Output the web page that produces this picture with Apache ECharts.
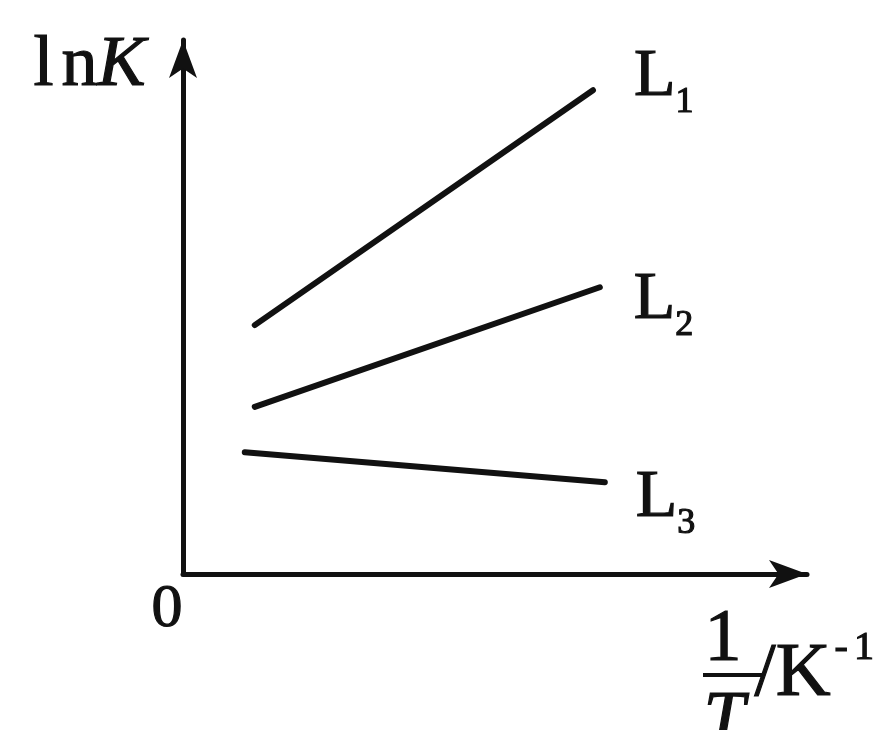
<!DOCTYPE html>
<html>
<head>
<meta charset="utf-8">
<script src="https://cdn.jsdelivr.net/npm/echarts@6/dist/echarts.min.js"></script>
<style>
  html, body { margin: 0; padding: 0; background: #fff; }
  #chart { width: 876px; height: 730px; }
</style>
</head>
<body>
<div id="chart"></div>
<script>
// Straight lines of ln K against 1/T, each given by its two end points
const lineNames = ['L1', 'L2', 'L3'];
const lineSubscripts = ['1', '2', '3'];
const invT = [
  [1.15, 6.57],
  [1.15, 6.68],
  [0.99, 6.76]
];
const lnK = [
  [4.66, 9.06],
  [3.13, 5.37],
  [2.28, 1.72]
];
const axisMax = { x: 10, y: 10 };

const serif = "'Liberation Serif', 'Times New Roman', 'DejaVu Serif', serif";
const ink = '#111';
// slightly heavier strokes for the series labels
const heavy = { textBorderColor: ink, textBorderWidth: 1.2 };
// and the same for the free-standing graphic texts
const heavyG = { stroke: ink, lineWidth: 1.2 };

// per-line label nudges for the end labels
const labelOffsets = [[33, -13], [26, 13], [23, 16]];

const series = lineNames.map((name, i) => ({
  name: name,
  type: 'line',
  data: invT[i].map((x, k) => [x, lnK[i][k]]),
  symbol: 'none',
  silent: true,
  lineStyle: { color: ink, width: 6, cap: 'round' },
  endLabel: {
    show: true,
    offset: labelOffsets[i],
    formatter: () => '{a|L}{b|' + lineSubscripts[i] + '}',
    rich: {
      a: Object.assign({ fontFamily: serif, fontSize: 68, color: ink }, heavy),
      b: Object.assign({ fontFamily: serif, fontSize: 36, color: ink, padding: [50, 0, 0, 0] }, heavy)
    }
  }
}));

const axisLine = {
  show: true,
  lineStyle: { color: ink, width: 5 },
  symbol: ['none', 'arrow'],
  symbolSize: [21, 38]
};

const chart = echarts.init(document.getElementById('chart'), null, { renderer: 'canvas' });
chart.setOption({
  animation: false,
  backgroundColor: '#fff',
  grid: { left: 183, right: 69, top: 40, bottom: 156, containLabel: false },
  xAxis: {
    type: 'value', min: 0, max: axisMax.x,
    axisLine: axisLine,
    axisTick: { show: false }, axisLabel: { show: false }, splitLine: { show: false }
  },
  yAxis: {
    type: 'value', min: 0, max: axisMax.y,
    axisLine: axisLine,
    axisTick: { show: false }, axisLabel: { show: false }, splitLine: { show: false }
  },
  graphic: [
    // y axis title: ln K
    {
      type: 'text', left: 33, top: 29,
      style: {
        text: '{l|l}{n|n}{k|K}',
        rich: {
          l: Object.assign({ fontFamily: serif, fontSize: 72, fill: ink, padding: [0, 8, 0, 0] }, heavyG),
          n: Object.assign({ fontFamily: serif, fontSize: 72, fill: ink }, heavyG),
          k: Object.assign({ fontFamily: serif, fontSize: 72, fontStyle: 'italic', fill: ink }, heavyG)
        }
      }
    },
    // origin
    { type: 'text', left: 151, top: 578, style: Object.assign({ text: '0', fontFamily: serif, fontSize: 62, fill: ink }, heavyG) },
    // x axis title: 1/T / K^-1
    { type: 'text', left: 704, top: 603, style: Object.assign({ text: '1', fontFamily: serif, fontSize: 74, fill: ink }, heavyG) },
    { type: 'line', shape: { x1: 703, y1: 675, x2: 762, y2: 675 }, style: { stroke: ink, lineWidth: 4 } },
    { type: 'text', left: 703, top: 685, style: Object.assign({ text: 'T', fontFamily: serif, fontSize: 74, fontStyle: 'italic', fill: ink }, heavyG) },
    { type: 'text', left: 754, top: 636, style: Object.assign({ text: '/K', fontFamily: serif, fontSize: 76, fill: ink }, heavyG) },
    {
      type: 'text', left: 834, top: 628,
      style: {
        text: '{m|-}{o|1}',
        rich: {
          m: Object.assign({ fontFamily: serif, fontSize: 40, fill: ink, padding: [0, 6, 0, 0] }, heavyG),
          o: Object.assign({ fontFamily: serif, fontSize: 40, fill: ink }, heavyG)
        }
      }
    }
  ],
  series: series
});
</script>
</body>
</html>
